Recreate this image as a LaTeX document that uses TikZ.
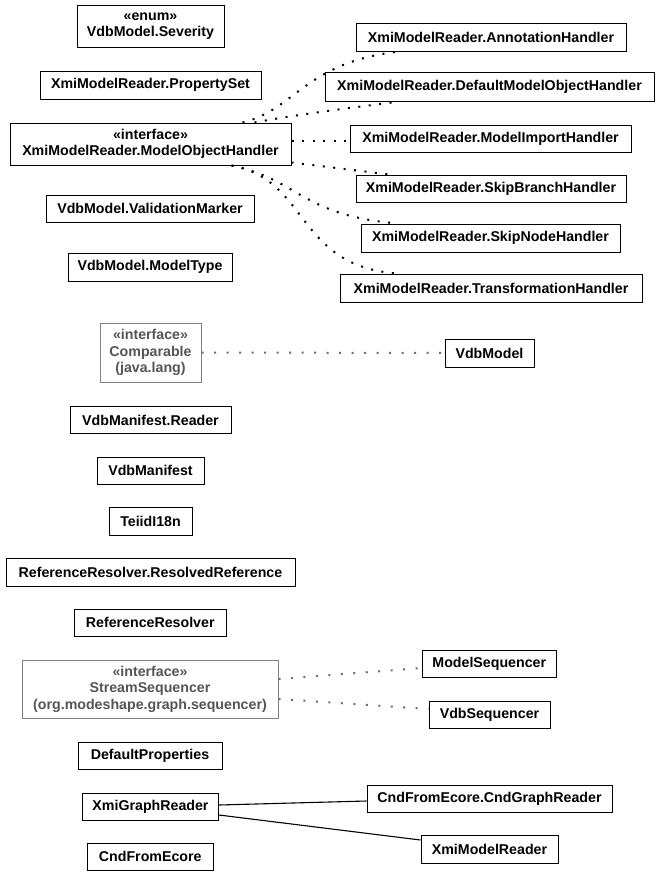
\documentclass[tikz,border=0pt]{standalone}
\usepackage{fontspec}
\setmainfont{Liberation Sans}
\begin{document}
\begin{tikzpicture}[x=1pt,y=-1pt,
  cls/.style={draw=black, line width=1pt, rectangle, inner sep=0pt, align=center,
    font=\fontsize{14.2}{16.5}\selectfont\bfseries, text=black},
  gcls/.style={cls, draw=gborder, text=gtext},
  dotedge/.style={draw=black, line width=2pt, dash pattern=on 2pt off 8.5pt},
  gdotedge/.style={draw=gedge, line width=2pt, dash pattern=on 2pt off 10.5pt},
  solidedge/.style={draw=black, line width=1.1pt}]
\definecolor{gborder}{HTML}{808080}
\definecolor{gedge}{HTML}{707070}
\definecolor{gtext}{HTML}{555555}
\useasboundingbox (0,0) rectangle (661,876);
\fill[white] (0,0) rectangle (661,876);
% left column
\node[cls, minimum width=147pt, minimum height=42pt] (sev) at (150.5,26) {«enum»\\VdbModel.Severity};
\node[cls, minimum width=221pt, minimum height=28pt] (pset) at (150.5,85) {XmiModelReader.PropertySet};
\node[cls, minimum width=281pt, minimum height=42pt] (moh) at (150.5,144) {«interface»\\XmiModelReader.ModelObjectHandler};
\node[cls, minimum width=208pt, minimum height=27pt] (vmark) at (150,208.5) {VdbModel.ValidationMarker};
\node[cls, minimum width=164pt, minimum height=28pt] (mtype) at (150,267) {VdbModel.ModelType};
\node[gcls, minimum width=101pt, minimum height=59pt] (comp) at (150.5,352.5) {«interface»\\Comparable\\(java.lang)};
\node[cls, minimum width=161pt, minimum height=27pt] (vmr) at (150.5,420) {VdbManifest.Reader};
\node[cls, minimum width=107pt, minimum height=27pt] (vman) at (150.5,470.5) {VdbManifest};
\node[cls, minimum width=83pt, minimum height=28pt] (teiid) at (150.5,521) {TeiidI18n};
\node[cls, minimum width=289pt, minimum height=28pt] (rres) at (150.5,572) {ReferenceResolver.ResolvedReference};
\node[cls, minimum width=151.5pt, minimum height=27pt] (rr) at (150.25,622.5) {ReferenceResolver};
\node[gcls, minimum width=256pt, minimum height=58pt] (ss) at (150,689) {«interface»\\StreamSequencer\\(org.modeshape.graph.sequencer)};
\node[cls, minimum width=144pt, minimum height=27pt] (dprops) at (150,756) {DefaultProperties};
\node[cls, minimum width=136pt, minimum height=27pt] (xgr) at (150.5,806.5) {XmiGraphReader};
\node[cls, minimum width=125.5pt, minimum height=27pt] (cfe) at (150.25,856.5) {CndFromEcore};
% right column
\node[cls, minimum width=270pt, minimum height=28pt] (ann) at (491,37) {XmiModelReader.AnnotationHandler};
\node[cls, minimum width=329pt, minimum height=29pt] (dmoh) at (489.5,86.5) {XmiModelReader.DefaultModelObjectHandler};
\node[cls, minimum width=281pt, minimum height=27pt] (mimp) at (490.5,138.5) {XmiModelReader.ModelImportHandler};
\node[cls, minimum width=270pt, minimum height=27pt] (sbr) at (491,188.5) {XmiModelReader.SkipBranchHandler};
\node[cls, minimum width=259pt, minimum height=28pt] (snode) at (490.5,238) {XmiModelReader.SkipNodeHandler};
\node[cls, minimum width=302pt, minimum height=28pt] (trans) at (491,288) {XmiModelReader.TransformationHandler};
\node[cls, minimum width=89pt, minimum height=28pt] (vdbm) at (489.5,353) {VdbModel};
\node[cls, minimum width=133.5pt, minimum height=27pt] (mseq) at (489.25,664) {ModelSequencer};
\node[cls, minimum width=121pt, minimum height=27pt] (vseq) at (489.5,714.5) {VdbSequencer};
\node[cls, minimum width=245pt, minimum height=27pt] (cgr) at (489.5,798.5) {CndFromEcore.CndGraphReader};
\node[cls, minimum width=137pt, minimum height=28pt] (xmr) at (489.5,849) {XmiModelReader};
% edges
\draw[dotedge] ([xshift=233pt]moh.north west) .. controls (295,110) and (305,62) .. ([xshift=44pt]ann.south west);
\draw[dotedge] ([xshift=245pt]moh.north west) .. controls (300,114) and (350,108) .. ([xshift=75pt]dmoh.south west);
\draw[dotedge] ([yshift=3pt]moh.east) -- ([yshift=-2.5pt]mimp.west);
\draw[dotedge] ([yshift=3pt]moh.south east) -- ([xshift=34pt]sbr.north west);
\draw[dotedge] ([xshift=222pt]moh.south west) .. controls (300,180) and (300,215) .. ([xshift=37pt]snode.north west);
\draw[dotedge] ([xshift=222pt]moh.south west) .. controls (310,180) and (295,266) .. ([xshift=58pt]trans.north west);
\draw[gdotedge] (comp.east) -- (vdbm.west);
\draw[gdotedge] ([yshift=10pt]ss.east) -- ([yshift=-4pt]mseq.west);
\draw[gdotedge] ([yshift=-10pt]ss.east) -- ([yshift=5.5pt]vseq.west);
\draw[solidedge] ([yshift=1.5pt]xgr.east) -- ([yshift=-2.5pt]cgr.west);
\draw[solidedge] ([yshift=-8.5pt]xgr.east) -- ([yshift=9pt]xmr.west);
\end{tikzpicture}
\end{document}
